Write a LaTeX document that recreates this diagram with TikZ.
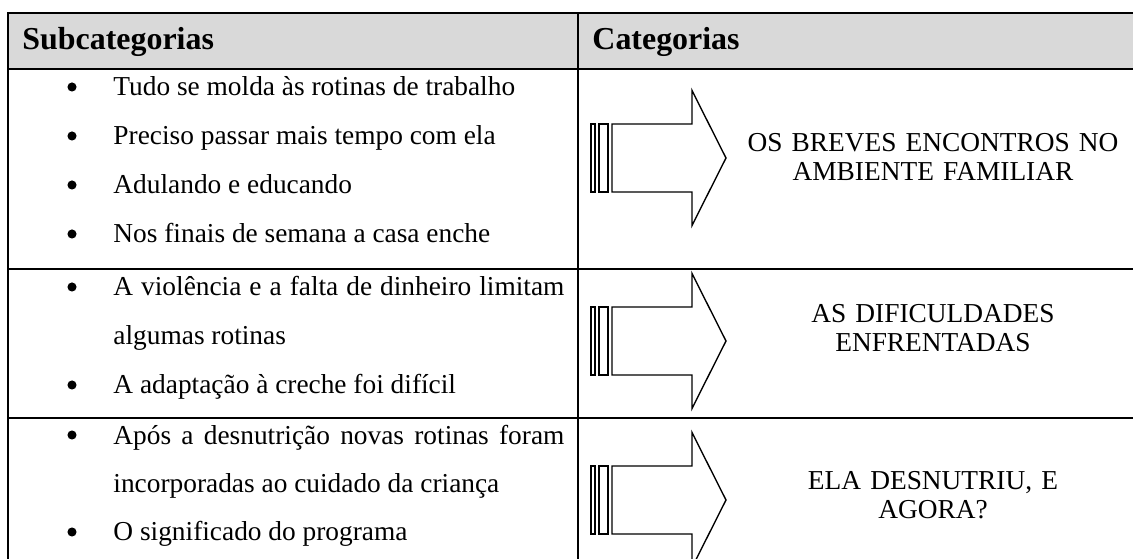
\documentclass[tikz,border=0pt]{standalone}
\usepackage{fontspec}
\setmainfont{Liberation Serif}
\definecolor{headgray}{HTML}{D9D9D9}
\tikzset{
  heading/.style={anchor=base west, inner sep=0pt, font=\fontsize{14}{16}\selectfont\bfseries},
  subitem/.style={anchor=base west, inner sep=0pt, text width=197.8pt,
    align=justify, font=\fontsize{12}{21.36}\selectfont},
  bulletdot/.style={circle, fill, inner sep=0pt, minimum size=4pt},
  category/.style={anchor=base, inner sep=0pt, text width=175pt,
    align=center, font=\fontsize{12}{12.3}\selectfont},
  thinrule/.style={line width=0.45pt},
  thickrule/.style={line width=0.9pt},
  stripedarrow/.pic={
    \draw[line width=0.6pt] (591,-34) rectangle (595,34);
    \draw[line width=0.6pt] (599,-34) rectangle (608,34);
    \draw[line width=0.6pt, line join=miter] (612,-34) -- (692,-34) -- (692,-67.5)
      -- (726,0) -- (692,67.5) -- (692,34) -- (612,34) -- cycle;
  }
}
\begin{document}
\begin{tikzpicture}[x=0.4386pt, y=-0.4386pt]
\useasboundingbox (0,0) rectangle (1133,559);
\clip (0,0) rectangle (1133,559);

% table
\fill[headgray] (8,13) rectangle (1140,69);
\draw[thinrule] (578,13) -- (578,570);
\draw[thinrule] (8,269) -- (1140,269);
\draw[thickrule] (8,418) -- (1140,418);
\draw[thickrule] (8,69) -- (1140,69);
\draw[thickrule] (1140,13) -- (8,13) -- (8,570);

\node[heading] (subhead) at (22,50) {Subcategorias};
\node[heading] (cathead) at (592,50) {Categorias};

% first row
\node[subitem] (s11) at (113,96) {Tudo se molda às rotinas de trabalho};
\node[subitem] (s12) at (113,145) {Preciso passar mais tempo com ela};
\node[subitem] (s13) at (113,194) {Adulando e educando};
\node[subitem] (s14) at (113,243) {Nos finais de semana a casa enche};
\node[bulletdot] (b11) at (72,87) {};
\node[bulletdot] (b12) at (72,136) {};
\node[bulletdot] (b13) at (72,185) {};
\node[bulletdot] (b14) at (72,234) {};
\pic at (0,158) {stripedarrow};
\node[category] (cat1) at (933,152) {OS BREVES ENCONTROS NO\\AMBIENTE FAMILIAR};

% second row
\node[subitem] (s21) at (113,296) {A violência e a falta de dinheiro limitam\linebreak algumas rotinas};
\node[subitem] (s22) at (113,394) {A adaptação à creche foi difícil};
\node[bulletdot] (b21) at (72,287) {};
\node[bulletdot] (b22) at (72,385) {};
\pic at (0,341) {stripedarrow};
\node[category] (cat2) at (933,323) {AS DIFICULDADES\\ENFRENTADAS};

% third row
\node[subitem] (s31) at (113,444) {Após a desnutrição novas rotinas foram\linebreak incorporadas ao cuidado da criança};
\node[subitem] (s32) at (113,541) {O significado do programa};
\node[bulletdot] (b31) at (72,435) {};
\node[bulletdot] (b32) at (72,532) {};
\pic at (0,500) {stripedarrow};
\node[category] (cat3) at (933,490) {ELA DESNUTRIU, E\\AGORA?};
\end{tikzpicture}
\end{document}
